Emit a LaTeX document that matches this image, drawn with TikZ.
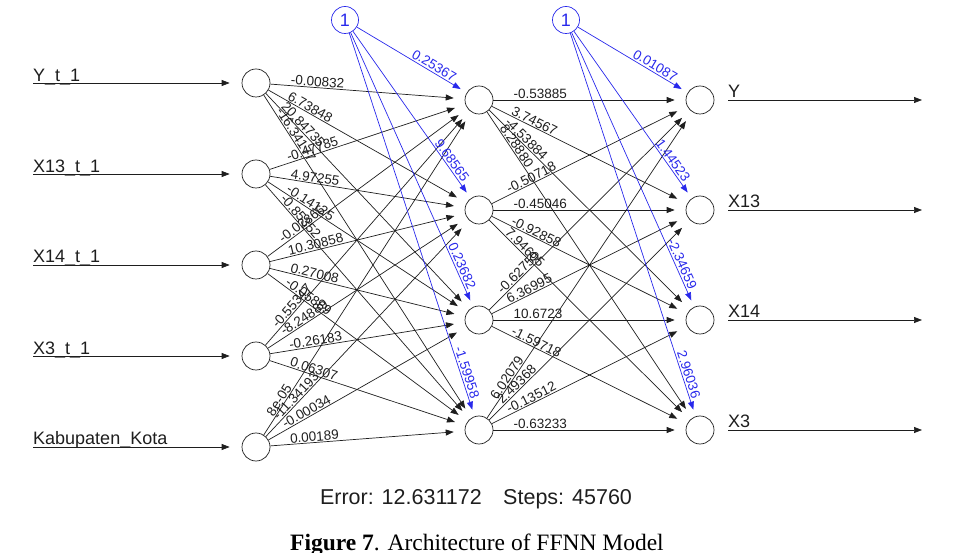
\documentclass[tikz,border=0pt]{standalone}
\usepackage{fontspec}
\setmainfont{Liberation Sans}
\newfontfamily\capfont{Liberation Serif}
\usetikzlibrary{arrows.meta}
\definecolor{nnblue}{RGB}{40,40,235}
\definecolor{nnline}{RGB}{30,30,30}

\begin{document}
\begin{tikzpicture}[
		x=1pt, y=-1pt,
		neuron/.style={draw=nnline, circle, minimum size=28pt, inner sep=0pt, line width=0.7pt},
		biasnode/.style={draw=nnblue, circle, minimum size=27pt, inner sep=0pt, line width=0.7pt, text=nnblue, font=\fontsize{18}{20}\selectfont},
		arrow/.style={-{Triangle[length=8pt,width=6pt]}, line width=0.7pt, draw=nnline},
		edge/.style={arrow, shorten >=11pt},
		biasedge/.style={arrow, draw=nnblue, shorten >=7pt},
		wt/.style={pos=0, sloped, anchor=south west, inner xsep=20pt, inner ysep=0.8pt, text=nnline, font=\fontsize{13.5}{15}\selectfont},
		bwt/.style={pos=1, sloped, anchor=south east, inner xsep=17pt, inner ysep=1.5pt, text=nnblue, font=\fontsize{13.5}{15}\selectfont},
		varname/.style={anchor=base west, inner sep=0pt, text=nnline, font=\fontsize{18}{20}\selectfont}
		]
		\useasboundingbox (0,0) rectangle (962,553);
		
		% layers
		\node[neuron] (i1) at (256,83) {};
		\node[neuron] (i2) at (256,174) {};
		\node[neuron] (i3) at (256,265) {};
		\node[neuron] (i4) at (256,356) {};
		\node[neuron] (i5) at (256,447) {};
		\node[neuron] (h1) at (479,100) {};
		\node[neuron] (h2) at (479,210) {};
		\node[neuron] (h3) at (479,320) {};
		\node[neuron] (h4) at (479,430) {};
		\node[neuron] (o1) at (700,100) {};
		\node[neuron] (o2) at (700,210) {};
		\node[neuron] (o3) at (700,320) {};
		\node[neuron] (o4) at (700,430) {};
		\node[biasnode] (b1) at (345,20) {1};
		\node[biasnode] (b2) at (566,20) {1};
		
		% inputs and outputs
		\coordinate (in1) at (33,83);
		\coordinate (in2) at (33,174);
		\coordinate (in3) at (33,265);
		\coordinate (in4) at (33,356);
		\coordinate (in5) at (33,447);
		\coordinate (out1) at (922,100);
		\coordinate (out2) at (922,210);
		\coordinate (out3) at (922,320);
		\coordinate (out4) at (922,430);
		\draw[arrow, shorten >=12pt] (in1) -- (i1);
		\draw[arrow, shorten >=12pt] (in2) -- (i2);
		\draw[arrow, shorten >=12pt] (in3) -- (i3);
		\draw[arrow, shorten >=12pt] (in4) -- (i4);
		\draw[arrow, shorten >=12pt] (in5) -- (i5);
		\draw[arrow, shorten <=14pt] (o1) -- (out1);
		\draw[arrow, shorten <=14pt] (o2) -- (out2);
		\draw[arrow, shorten <=14pt] (o3) -- (out3);
		\draw[arrow, shorten <=14pt] (o4) -- (out4);
		\node[varname] (n1) at (33,81.5) {Y\_t\_1};
		\node[varname] (n2) at (33,172.5) {X13\_t\_1};
		\node[varname] (n3) at (33,262.5) {X14\_t\_1};
		\node[varname] (n4) at (33,354.5) {X3\_t\_1};
		\node[varname] (n5) at (33,445) {Kabupaten\_Kota};
		\node[varname] (m1) at (728,97.5) {Y};
		\node[varname] (m2) at (728,207.5) {X13};
		\node[varname] (m3) at (728,317.5) {X14};
		\node[varname] (m4) at (728,427.5) {X3};
		
		% input -> hidden
		\draw[edge] (i1) -- (h1) node[wt] {-0.00832};
		\draw[edge] (i1) -- (h2) node[wt] {6.73848};
		\draw[edge] (i1) -- (h3) node[wt] {20.84735};
		\draw[edge] (i1) -- (h4) node[wt] {-16.34177};
		\draw[edge] (i2) -- (h1) node[wt] {-0.47785};
		\draw[edge] (i2) -- (h2) node[wt] {4.97255};
		\draw[edge] (i2) -- (h3) node[wt] {-0.14125};
		\draw[edge] (i2) -- (h4) node[wt] {-0.85352};
		\draw[edge] (i3) -- (h1) node[wt] {-0.02866};
		\draw[edge] (i3) -- (h2) node[wt] {10.30858};
		\draw[edge] (i3) -- (h3) node[wt] {0.27008};
		\draw[edge] (i3) -- (h4) node[wt] {-0.05869};
		\draw[edge] (i4) -- (h1) node[wt] {-0.55347};
		\draw[edge] (i4) -- (h2) node[wt] {-8.24889};
		\draw[edge] (i4) -- (h3) node[wt] {-0.26183};
		\draw[edge] (i4) -- (h4) node[wt] {0.06307};
		\draw[edge] (i5) -- (h1) node[wt] {8e-05};
		\draw[edge] (i5) -- (h2) node[wt] {-11.34193};
		\draw[edge] (i5) -- (h3) node[wt] {-0.00034};
		\draw[edge] (i5) -- (h4) node[wt] {0.00189};
		
		% hidden -> output
		\draw[edge] (h1) -- (o1) node[wt] {-0.53885};
		\draw[edge] (h1) -- (o2) node[wt] {3.74567};
		\draw[edge] (h1) -- (o3) node[wt] {-4.53884};
		\draw[edge] (h1) -- (o4) node[wt] {8.28880};
		\draw[edge] (h2) -- (o1) node[wt] {-0.50718};
		\draw[edge] (h2) -- (o2) node[wt] {-0.45046};
		\draw[edge] (h2) -- (o3) node[wt] {-0.92858};
		\draw[edge] (h2) -- (o4) node[wt] {7.94605};
		\draw[edge] (h3) -- (o1) node[wt] {-0.62759};
		\draw[edge] (h3) -- (o2) node[wt] {6.36995};
		\draw[edge] (h3) -- (o3) node[wt] {10.6723};
		\draw[edge] (h3) -- (o4) node[wt] {-1.59718};
		\draw[edge] (h4) -- (o1) node[wt] {6.02079};
		\draw[edge] (h4) -- (o2) node[wt] {2.49368};
		\draw[edge] (h4) -- (o3) node[wt] {-0.13512};
		\draw[edge] (h4) -- (o4) node[wt] {-0.63233};
		
		% bias
		\draw[biasedge] (b1) -- (h1) node[bwt] {0.25367};
		\draw[biasedge] (b1) -- (h2) node[bwt] {9.68565};
		\draw[biasedge] (b1) -- (h3) node[bwt] {0.23682};
		\draw[biasedge] (b1) -- (h4) node[bwt] {-1.59958};
		\draw[biasedge] (b2) -- (o1) node[bwt] {0.01087};
		\draw[biasedge] (b2) -- (o2) node[bwt] {1.44523};
		\draw[biasedge] (b2) -- (o3) node[bwt] {-2.34659};
		\draw[biasedge] (b2) -- (o4) node[bwt] {2.96036};
		
		\node[anchor=base, text=nnline, font=\fontsize{21.5}{24}\selectfont] (err) at (476,504) {Error: 12.631172\quad Steps: 45760};
		\node[anchor=base, font=\capfont\fontsize{23.5}{26}\selectfont] (cap) at (477,550) {\textbf{Figure 7}. Architecture of FFNN Model};
		
	\end{tikzpicture}
\end{document}
